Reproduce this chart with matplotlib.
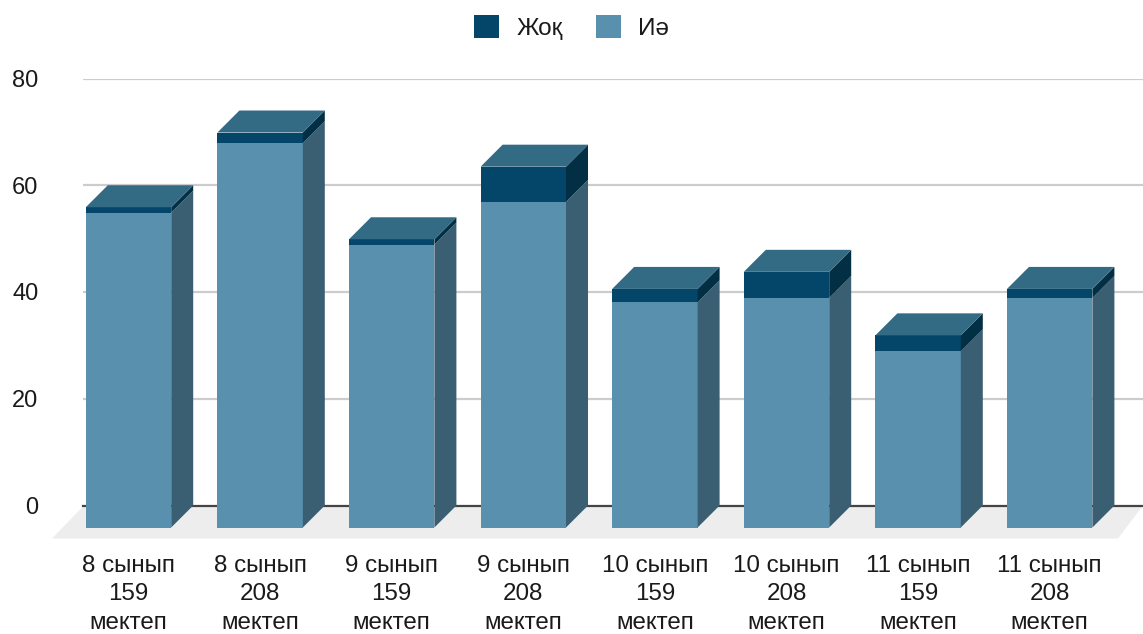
import matplotlib
matplotlib.use("Agg")
import matplotlib.pyplot as plt
from matplotlib.patches import Polygon, Rectangle

plt.rcParams['font.family'] = ['Liberation Sans', 'DejaVu Sans']

categories = ["8 сынып\n159\nмектеп", "8 сынып\n208\nмектеп", "9 сынып\n159\nмектеп",
              "9 сынып\n208\nмектеп", "10 сынып\n159\nмектеп", "10 сынып\n208\nмектеп",
              "11 сынып\n159\nмектеп", "11 сынып\n208\nмектеп"]
yes_values = [59, 72, 53, 61, 42.2, 43, 33, 43]
no_values = [1, 2, 1, 6.6, 2.5, 4.9, 3, 1.7]
yticks = [0, 20, 40, 60, 80]

C_YES, C_YES_SIDE = "#5990ae", "#3a5e72"
C_NO, C_NO_SIDE = "#03466a", "#032f45"
C_TOP = "#336a84"
C_FLOOR = "#ededed"
C_GRID = "#cccccc"
C_TEXT = "#1a1a1a"

W, H = 1143, 634
fig = plt.figure(figsize=(W / 100, H / 100), dpi=100)
L, R, T, B = 83, 1143, 78.5, 505.5
ax = fig.add_axes([L / W, 1 - B / H, (R - L) / W, (B - T) / H])
ax.set_xlim((L - 128.5) / 131.6, (R - 128.5) / 131.6)
ax.set_ylim(0, 80)
for s in ax.spines.values():
    s.set_visible(False)
ax.tick_params(length=0)

ppx = 131.6
ppy = (B - T) / 80
dx = 22 / ppx
dy = 22 / ppy
hw = 42.7 / ppx

ax.set_yticks(yticks)
ax.set_yticklabels([str(v) for v in yticks], fontsize=17, color=C_TEXT)
ax.tick_params(axis='y', pad=32)
ax.grid(False)
for v in yticks[1:]:
    ax.axhline(v, color=C_GRID, lw=1.6, zorder=1)
ax.axhline(0, color="#444444", lw=1.6, zorder=2.5, clip_on=False)

# floor
x0, x1 = ax.get_xlim()
ax.add_patch(Polygon([(x0 + 1 / ppx, 0), (x1, 0), ((1118 - 128.5) / ppx, -33 / ppy),
                      ((52 - 128.5) / ppx, -33 / ppy)], closed=True, fc=C_FLOOR, ec='none',
                     clip_on=False, zorder=2))

for i, (yes, no) in enumerate(zip(yes_values, no_values)):
    base = -dy
    total = yes + no
    for lo, hi, face, side in [(0, yes, C_YES, C_YES_SIDE), (yes, total, C_NO, C_NO_SIDE)]:
        ax.add_patch(Rectangle((i - hw, base + lo), 2 * hw, hi - lo, fc=face, ec='none',
                               clip_on=False, zorder=3))
        ax.add_patch(Polygon([(i + hw, base + lo), (i + hw + dx, base + lo + dy),
                              (i + hw + dx, base + hi + dy), (i + hw, base + hi)],
                             closed=True, fc=side, ec='none', clip_on=False, zorder=3))
    ax.add_patch(Polygon([(i - hw, base + total), (i + hw, base + total),
                          (i + hw + dx, base + total + dy), (i - hw + dx, base + total + dy)],
                         closed=True, fc=C_TOP, ec='none', clip_on=False, zorder=3))

ax.set_xticks(range(len(categories)))
ax.set_xticklabels([""] * len(categories))
for i, c in enumerate(categories):
    for j, line in enumerate(c.split("\n")):
        ax.annotate(line, xy=(i, 0), xycoords=('data', 'axes fraction'),
                    xytext=(0, -(566 + 28.4 * j - B) * 0.72), textcoords='offset points',
                    ha='center', va='center', fontsize=17.4, color=C_TEXT, annotation_clip=False)

# legend
leg_h = [Rectangle((0, 0), 1, 1, fc=C_NO, ec='none'), Rectangle((0, 0), 1, 1, fc=C_YES, ec='none')]
fig.legend(leg_h, ["Жоқ", "Иә"], loc='upper left', bbox_to_anchor=(467 / W, 1 - 8 / H), ncol=2,
           frameon=False, fontsize=17.5, handlelength=1.03, handleheight=1.03, handletextpad=0.7,
           columnspacing=1.36, labelcolor=C_TEXT, borderpad=0.3, borderaxespad=0)

fig.savefig("out.png", dpi=100)
